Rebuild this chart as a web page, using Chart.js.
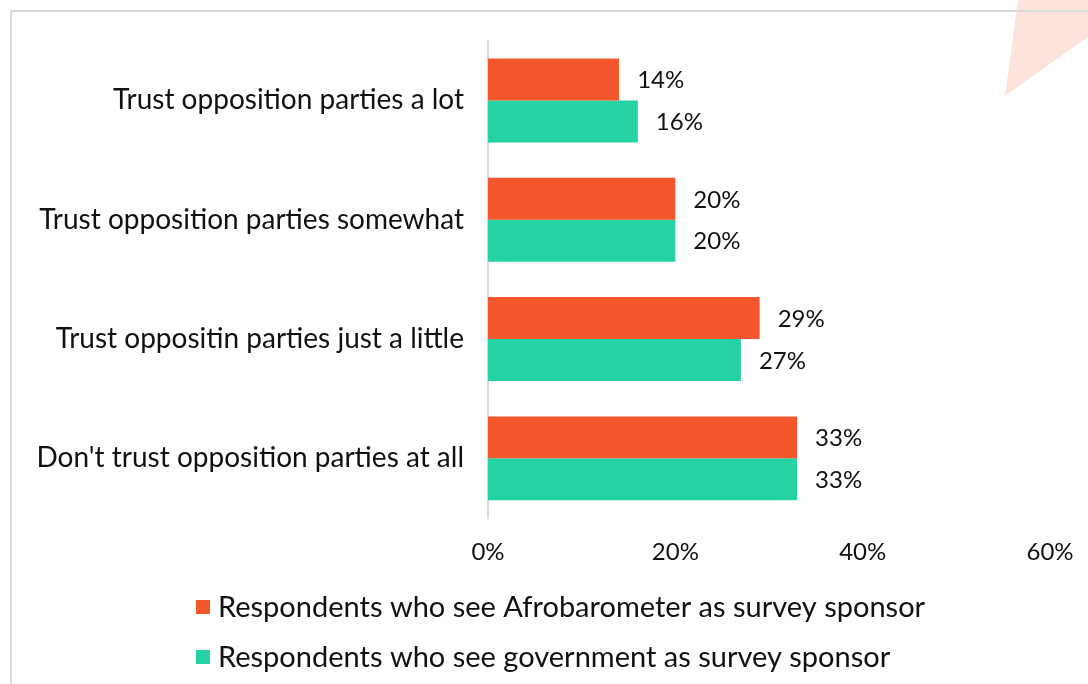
<!DOCTYPE html>
<html>
<head>
<meta charset="utf-8">
<script src="https://cdn.jsdelivr.net/npm/chart.js@4/dist/chart.umd.min.js"></script>
<style>
  html, body { margin: 0; padding: 0; background: #ffffff; }
  #wrap { position: relative; width: 1088px; height: 684px; }
</style>
</head>
<body>
<div id="wrap"><canvas id="chart" width="1088" height="684"></canvas></div>
<script>
const CATEGORIES = [
  'Trust opposition parties a lot',
  'Trust opposition parties somewhat',
  'Trust oppositin parties just a little',
  "Don't trust opposition parties at all",
];
const SERIES_NAMES = [
  'Respondents who see Afrobarometer as survey sponsor',
  'Respondents who see government as survey sponsor',
];
const AFROBAROMETER_VALUES = [14, 20, 29, 33];
const GOVERNMENT_VALUES = [16, 20, 27, 33];
const X_MAX = 60;
const X_STEP = 20;

const FONT_FAMILY = 'Lato, "Open Sans", sans-serif';
const TEXT_COLOR = '#111111';
const ORANGE = '#F3572B';
const GREEN = '#24D2A3';
const FRAME_COLOR = '#D9D9D9';
const TRIANGLE_COLOR = '#FCE4DC';

// frame + decorative triangle behind the chart
const backdrop = {
  id: 'backdrop',
  beforeDraw(chart) {
    const { ctx } = chart;
    ctx.save();
    ctx.fillStyle = TRIANGLE_COLOR;
    ctx.beginPath();
    ctx.moveTo(1018, 0);
    ctx.lineTo(1088, 0);
    ctx.lineTo(1088, 37);
    ctx.lineTo(1005, 96);
    ctx.closePath();
    ctx.fill();
    ctx.strokeStyle = FRAME_COLOR;
    ctx.lineWidth = 2;
    ctx.beginPath();
    ctx.moveTo(11, 700);
    ctx.lineTo(11, 11);
    ctx.lineTo(1100, 11);
    ctx.stroke();
    ctx.restore();
  },
};

const valueLabels = {
  id: 'valueLabels',
  afterDatasetsDraw(chart) {
    const { ctx } = chart;
    ctx.save();
    ctx.font = `24px ${FONT_FAMILY}`;
    ctx.fillStyle = TEXT_COLOR;
    ctx.textAlign = 'left';
    ctx.textBaseline = 'middle';
    chart.data.datasets.forEach((ds, i) => {
      chart.getDatasetMeta(i).data.forEach((bar, j) => {
        ctx.fillText(ds.data[j] + '%', bar.x + 18, bar.y + 1);
      });
    });
    ctx.restore();
  },
};

const bottomLegend = {
  id: 'bottomLegend',
  afterDraw(chart) {
    const { ctx } = chart;
    ctx.save();
    ctx.font = `29px ${FONT_FAMILY}`;
    ctx.textAlign = 'left';
    ctx.textBaseline = 'middle';
    chart.data.datasets.forEach((ds, i) => {
      const y = 607 + i * 50;
      ctx.fillStyle = ds.backgroundColor;
      ctx.fillRect(196, y - 7, 14, 14);
      ctx.fillStyle = TEXT_COLOR;
      ctx.fillText(ds.label, 218, y + 1);
    });
    ctx.restore();
  },
};

const CHART_DATA = {
  labels: CATEGORIES,
  datasets: [
    { label: SERIES_NAMES[0], data: AFROBAROMETER_VALUES, backgroundColor: ORANGE },
    { label: SERIES_NAMES[1], data: GOVERNMENT_VALUES, backgroundColor: GREEN },
  ],
};

const SCALES = {
  x: {
    min: 0,
    max: X_MAX,
    grid: { display: false, drawTicks: false },
    border: { display: false },
    afterFit: (scale) => {
      scale.height = 50;
      scale.paddingRight = 0;
      scale.paddingLeft = 0;
    },
    ticks: {
      stepSize: X_STEP,
      padding: 20,
      color: TEXT_COLOR,
      font: { family: FONT_FAMILY, size: 24 },
      callback: (v) => v + '%',
    },
  },
  y: {
    grid: { display: false, drawTicks: false },
    border: { display: true, color: FRAME_COLOR, width: 2 },
    afterFit: (scale) => { scale.width = 468; },
    ticks: {
      padding: 24,
      color: TEXT_COLOR,
      font: { family: FONT_FAMILY, size: 28 },
    },
  },
};

new Chart(document.getElementById('chart'), {
  type: 'bar',
  data: CHART_DATA,
  options: {
    indexAxis: 'y',
    responsive: false,
    animation: false,
    devicePixelRatio: 1,
    datasets: { bar: { barPercentage: 1, categoryPercentage: 0.703 } },
    layout: { padding: { left: 20, right: 38, top: 40, bottom: 116 } },
    scales: SCALES,
    plugins: {
      legend: { display: false },
      tooltip: { enabled: false },
    },
  },
  plugins: [backdrop, valueLabels, bottomLegend],
});
</script>
</body>
</html>
